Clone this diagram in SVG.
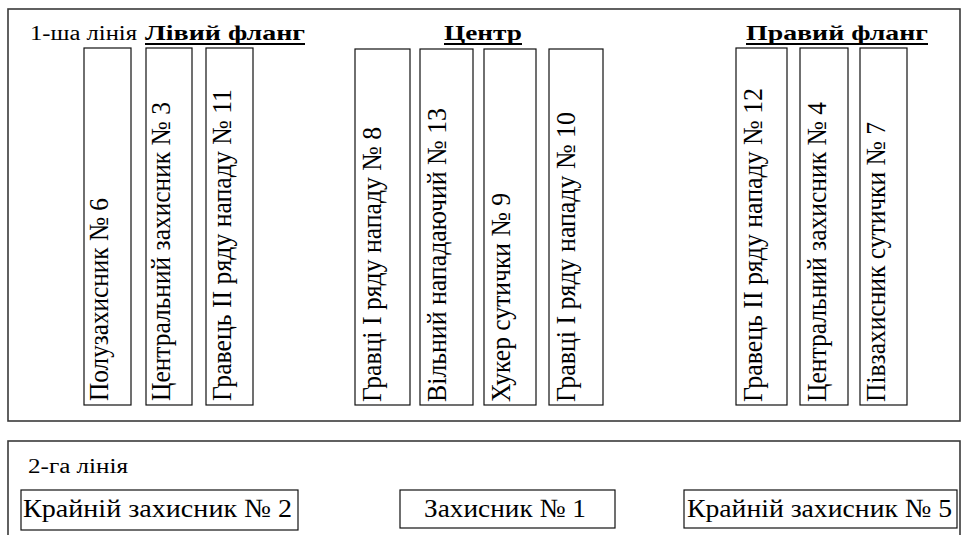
<svg xmlns="http://www.w3.org/2000/svg" width="962" height="535" viewBox="0 0 962 535">
<style>
.frame{fill:#fff;stroke:#3a3a3a;stroke-width:1.6}
.box{fill:#fff;stroke:#111;stroke-width:1.2}
.ul{stroke:#000;stroke-width:2}
</style>
<rect width="962" height="535" fill="#fff"/>
<g id="line1">
<rect class="frame" x="8" y="9" width="952" height="412"/>
<text font-family="Liberation Serif" font-size="20" x="30" y="40" textLength="107" lengthAdjust="spacingAndGlyphs">1-ша лінія</text>
</g>
<g id="hdr-left">
<text font-family="Liberation Serif" font-size="21" font-weight="bold" x="145" y="40" textLength="160" lengthAdjust="spacingAndGlyphs">Лівий фланг</text>
<line class="ul" x1="145" y1="44" x2="305" y2="44"/>
</g>
<g id="hdr-center">
<text font-family="Liberation Serif" font-size="21" font-weight="bold" x="444" y="40" textLength="78" lengthAdjust="spacingAndGlyphs">Центр</text>
<line class="ul" x1="444" y1="44" x2="522" y2="44"/>
</g>
<g id="hdr-right">
<text font-family="Liberation Serif" font-size="21" font-weight="bold" x="746" y="40" textLength="182" lengthAdjust="spacingAndGlyphs">Правий фланг</text>
<line class="ul" x1="746" y1="44" x2="928" y2="44"/>
</g>
<g id="p6">
<rect class="box" x="84" y="48" width="47" height="357"/>
<text font-family="Liberation Serif" font-size="28" transform="translate(108,401) rotate(-90)" textLength="203" lengthAdjust="spacingAndGlyphs">Полузахисник № 6</text>
</g>
<g id="p3">
<rect class="box" x="146" y="48" width="46" height="357"/>
<text font-family="Liberation Serif" font-size="28" transform="translate(170,401) rotate(-90)" textLength="299" lengthAdjust="spacingAndGlyphs">Центральний захисник № 3</text>
</g>
<g id="p11">
<rect class="box" x="206" y="48" width="47" height="357"/>
<text font-family="Liberation Serif" font-size="28" transform="translate(231,401) rotate(-90)" textLength="312" lengthAdjust="spacingAndGlyphs">Гравець II ряду нападу № 11</text>
</g>
<g id="p8">
<rect class="box" x="355" y="49" width="55" height="356"/>
<text font-family="Liberation Serif" font-size="28" transform="translate(381,402) rotate(-90)" textLength="275" lengthAdjust="spacingAndGlyphs">Гравці I ряду нападу № 8</text>
</g>
<g id="p13">
<rect class="box" x="420" y="49" width="53" height="356"/>
<text font-family="Liberation Serif" font-size="28" transform="translate(446,402) rotate(-90)" textLength="294" lengthAdjust="spacingAndGlyphs">Вільний нападаючий № 13</text>
</g>
<g id="p9">
<rect class="box" x="484" y="49" width="52" height="356"/>
<text font-family="Liberation Serif" font-size="28" transform="translate(510,402) rotate(-90)" textLength="209" lengthAdjust="spacingAndGlyphs">Хукер сутички № 9</text>
</g>
<g id="p10">
<rect class="box" x="549" y="49" width="54" height="356"/>
<text font-family="Liberation Serif" font-size="28" transform="translate(575,402) rotate(-90)" textLength="290" lengthAdjust="spacingAndGlyphs">Гравці I ряду нападу № 10</text>
</g>
<g id="p12">
<rect class="box" x="736" y="48" width="51" height="357"/>
<text font-family="Liberation Serif" font-size="28" transform="translate(762,402) rotate(-90)" textLength="314" lengthAdjust="spacingAndGlyphs">Гравець II ряду нападу № 12</text>
</g>
<g id="p4">
<rect class="box" x="800" y="48" width="48" height="357"/>
<text font-family="Liberation Serif" font-size="28" transform="translate(826,402) rotate(-90)" textLength="300" lengthAdjust="spacingAndGlyphs">Центральний захисник № 4</text>
</g>
<g id="p7">
<rect class="box" x="860" y="48" width="47" height="357"/>
<text font-family="Liberation Serif" font-size="28" transform="translate(885,402) rotate(-90)" textLength="280" lengthAdjust="spacingAndGlyphs">Півзахисник сутички № 7</text>
</g>
<g id="line2">
<rect class="frame" x="8" y="441" width="952" height="110"/>
<text font-family="Liberation Serif" font-size="20" x="28" y="473" textLength="100" lengthAdjust="spacingAndGlyphs">2-га лінія</text>
</g>
<g id="p2">
<rect class="box" x="21" y="490" width="277" height="40"/>
<text font-family="Liberation Serif" font-size="26" x="23" y="517" textLength="269" lengthAdjust="spacingAndGlyphs">Крайній захисник № 2</text>
</g>
<g id="p1">
<rect class="box" x="400" y="490" width="215" height="38"/>
<text font-family="Liberation Serif" font-size="26" x="424" y="517" textLength="162" lengthAdjust="spacingAndGlyphs">Захисник № 1</text>
</g>
<g id="p5">
<rect class="box" x="684" y="490" width="273" height="38"/>
<text font-family="Liberation Serif" font-size="26" x="687" y="517" textLength="265" lengthAdjust="spacingAndGlyphs">Крайній захисник № 5</text>
</g>
<g id="connectors"></g>
</svg>
